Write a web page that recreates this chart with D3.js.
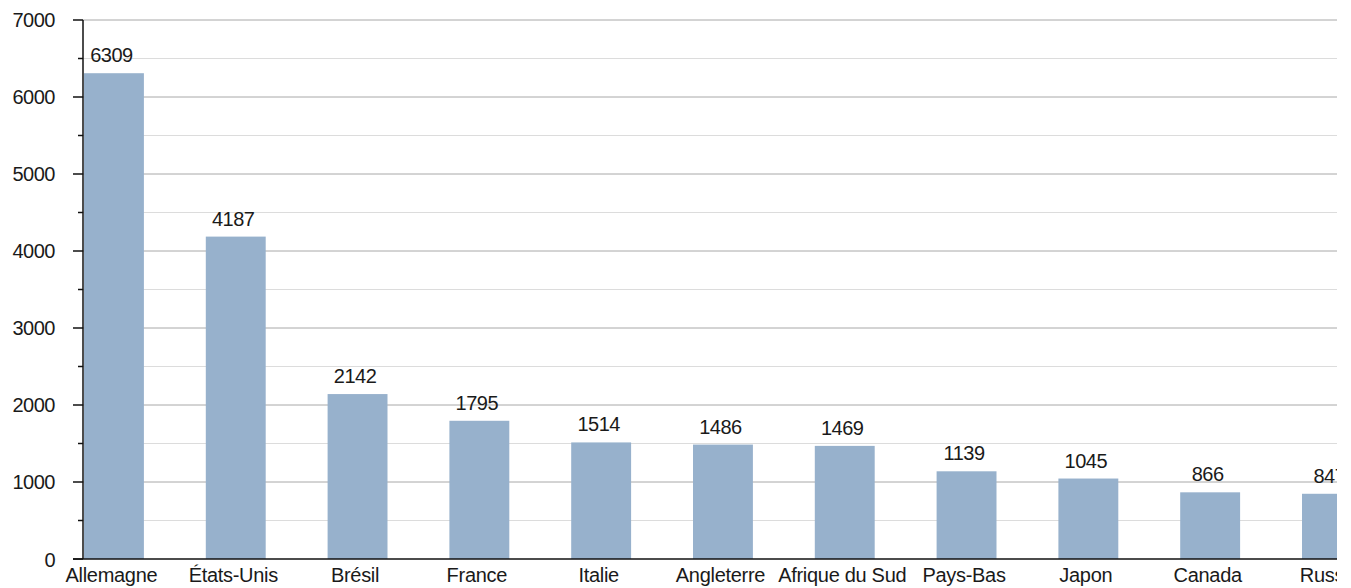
<!DOCTYPE html>
<html lang="fr">
<head>
  <meta charset="utf-8">
  <title>Bar chart</title>
  <style>
    html, body { margin:0; padding:0; background:#fff; overflow:hidden; }
    text { font-family:"Liberation Sans", Arial, sans-serif; fill:#1a1a1a; }
  </style>
</head>
<body>
  <svg id="chart" width="1337" height="588"></svg>
  <script src="https://d3js.org/d3.v7.min.js"></script>
  <script>
    // données
    const pays    = ["Allemagne","États-Unis","Brésil","France","Italie","Angleterre",
                     "Afrique du Sud","Pays-Bas","Japon","Canada","Russie"];
    const valeurs = [6309,4187,2142,1795,1514,1486,1469,1139,1045,866,847];
    const majorTicks = [0,1000,2000,3000,4000,5000,6000,7000];
    const minorTicks = [500,1500,2500,3500,4500,5500,6500];

    const svg = d3.select("#chart");
    const mLeft = 83, mTop = 20, mBottom = 559, mRight = 1337;
    const fs = 20;

    const x = d3.scaleBand()
      .domain(pays)
      .range([mLeft, mLeft + 121.8 * 10.5])
      .paddingInner(0.5)
      .paddingOuter(0);

    const y = d3.scaleLinear().domain([0,7000]).range([mBottom, mTop]);

    svg.append("defs").append("clipPath").attr("id","clip")
      .append("rect").attr("x",0).attr("y",0).attr("width",mRight).attr("height",588);

    const g = svg.append("g").attr("clip-path","url(#clip)");

    // grille secondaire
    g.selectAll(".minor").data(minorTicks).join("line")
      .attr("x1", mLeft).attr("x2", mRight)
      .attr("y1", d => y(d)).attr("y2", d => y(d))
      .attr("stroke","#dcdcdc").attr("stroke-width",1);

    // grille principale
    g.selectAll(".major").data(majorTicks.slice(1)).join("line")
      .attr("x1", mLeft).attr("x2", mRight)
      .attr("y1", d => y(d)).attr("y2", d => y(d))
      .attr("stroke","#a8a8a8").attr("stroke-width",1);

    // barres
    g.selectAll(".bar").data(valeurs).join("rect")
      .attr("x", (d,i) => x(pays[i]) + 1)
      .attr("y", d => y(d))
      .attr("width", x.bandwidth() - 1)
      .attr("height", d => y(0) - y(d))
      .attr("fill","#97b1cc");

    // étiquettes de valeur
    g.selectAll(".val").data(valeurs).join("text")
      .attr("x", (d,i) => x(pays[i]) + x.bandwidth()/2 - 2)
      .attr("y", d => y(d) - 11)
      .attr("text-anchor","middle")
      .attr("font-size",fs)
      .attr("letter-spacing",-0.5)
      .text(d => d);

    // étiquettes de catégorie
    g.selectAll(".cat").data(pays).join("text")
      .attr("x", d => x(d) + x.bandwidth()/2 - 2)
      .attr("y", 582)
      .attr("text-anchor","middle")
      .attr("font-size",fs)
      .attr("letter-spacing",-0.3)
      .text(d => d);

    // axe x
    g.append("line")
      .attr("x1", mLeft - 10).attr("x2", mRight)
      .attr("y1", mBottom).attr("y2", mBottom)
      .attr("stroke","#111").attr("stroke-width",1.5);

    // axe y
    const yAxis = svg.append("g");
    yAxis.append("line")
      .attr("x1", mLeft).attr("x2", mLeft)
      .attr("y1", mTop).attr("y2", mBottom)
      .attr("stroke","#111").attr("stroke-width",1.5);
    yAxis.selectAll(".tmaj").data(majorTicks).join("line")
      .attr("x1", mLeft - 10).attr("x2", mLeft)
      .attr("y1", d => y(d)).attr("y2", d => y(d))
      .attr("stroke","#111").attr("stroke-width",1.5);
    yAxis.selectAll(".tmin").data(minorTicks).join("line")
      .attr("x1", mLeft - 5).attr("x2", mLeft)
      .attr("y1", d => y(d)).attr("y2", d => y(d))
      .attr("stroke","#111").attr("stroke-width",1.5);
    yAxis.selectAll(".tlab").data(majorTicks).join("text")
      .attr("x", 55)
      .attr("y", d => y(d) + (d === 0 ? 8 : 7))
      .attr("text-anchor","end")
      .attr("font-size",fs)
      .attr("letter-spacing",-0.5)
      .text(d => d);
  </script>
</body>
</html>
